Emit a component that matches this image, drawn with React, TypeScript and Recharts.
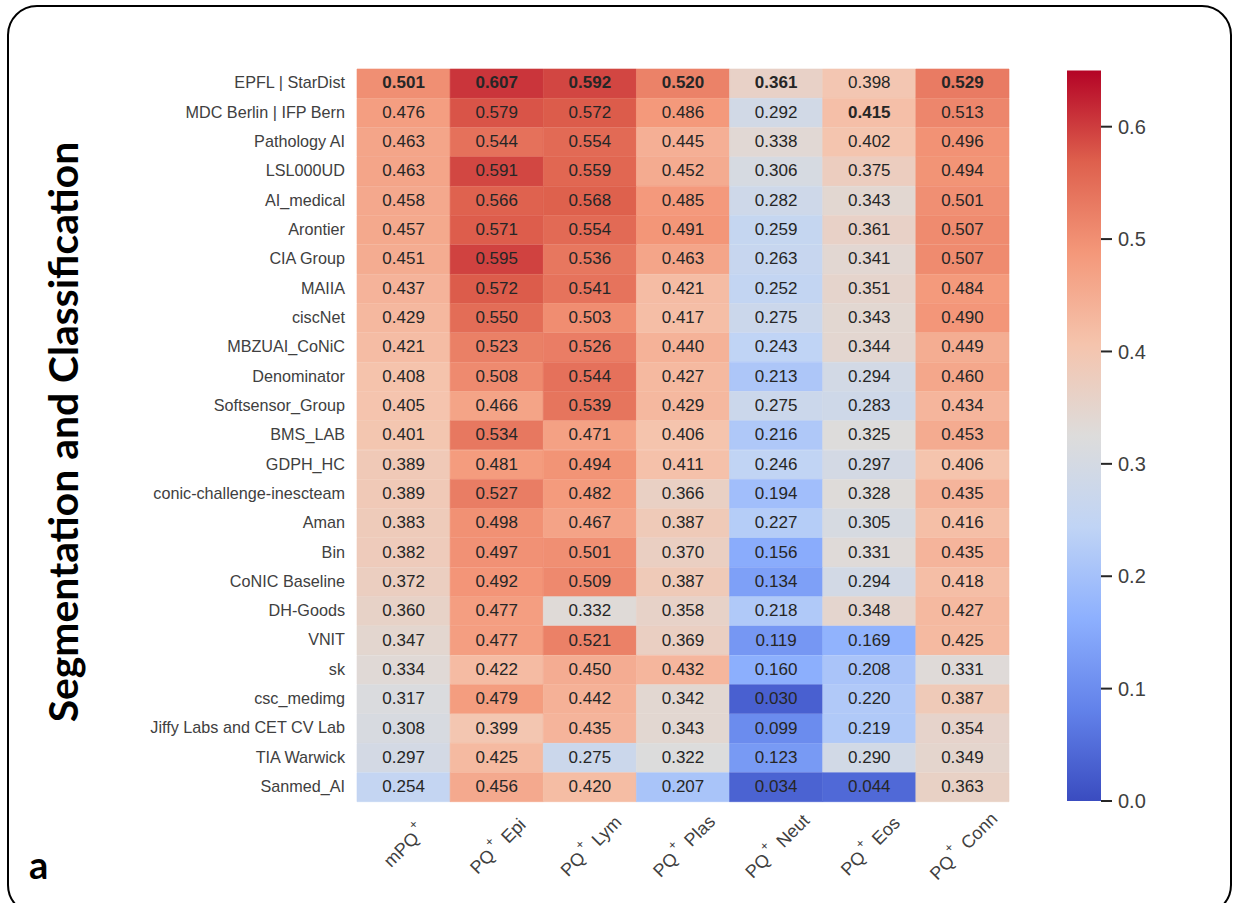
import { BarChart, Bar, Cell, LabelList, XAxis, YAxis } from "recharts";

const teams = [
  "EPFL | StarDist", "MDC Berlin | IFP Bern", "Pathology AI", "LSL000UD", "AI_medical",
  "Arontier", "CIA Group", "MAIIA", "ciscNet", "MBZUAI_CoNiC", "Denominator",
  "Softsensor_Group", "BMS_LAB", "GDPH_HC", "conic-challenge-inescteam", "Aman", "Bin",
  "CoNIC Baseline", "DH-Goods", "VNIT", "sk", "csc_medimg", "Jiffy Labs and CET CV Lab",
  "TIA Warwick", "Sanmed_AI",
];

const mpq = [0.501, 0.476, 0.463, 0.463, 0.458, 0.457, 0.451, 0.437, 0.429, 0.421, 0.408, 0.405, 0.401, 0.389, 0.389, 0.383, 0.382, 0.372, 0.36, 0.347, 0.334, 0.317, 0.308, 0.297, 0.254];
const epi = [0.607, 0.579, 0.544, 0.591, 0.566, 0.571, 0.595, 0.572, 0.55, 0.523, 0.508, 0.466, 0.534, 0.481, 0.527, 0.498, 0.497, 0.492, 0.477, 0.477, 0.422, 0.479, 0.399, 0.425, 0.456];
const lym = [0.592, 0.572, 0.554, 0.559, 0.568, 0.554, 0.536, 0.541, 0.503, 0.526, 0.544, 0.539, 0.471, 0.494, 0.482, 0.467, 0.501, 0.509, 0.332, 0.521, 0.45, 0.442, 0.435, 0.275, 0.42];
const plas = [0.52, 0.486, 0.445, 0.452, 0.485, 0.491, 0.463, 0.421, 0.417, 0.44, 0.427, 0.429, 0.406, 0.411, 0.366, 0.387, 0.37, 0.387, 0.358, 0.369, 0.432, 0.342, 0.343, 0.322, 0.207];
const neut = [0.361, 0.292, 0.338, 0.306, 0.282, 0.259, 0.263, 0.252, 0.275, 0.243, 0.213, 0.275, 0.216, 0.246, 0.194, 0.227, 0.156, 0.134, 0.218, 0.119, 0.16, 0.03, 0.099, 0.123, 0.034];
const eos = [0.398, 0.415, 0.402, 0.375, 0.343, 0.361, 0.341, 0.351, 0.343, 0.344, 0.294, 0.283, 0.325, 0.297, 0.328, 0.305, 0.331, 0.294, 0.348, 0.169, 0.208, 0.22, 0.219, 0.29, 0.044];
const conn = [0.529, 0.513, 0.496, 0.494, 0.501, 0.507, 0.507, 0.484, 0.49, 0.449, 0.46, 0.434, 0.453, 0.406, 0.435, 0.416, 0.435, 0.418, 0.427, 0.425, 0.331, 0.387, 0.354, 0.349, 0.363];

const columns = [
  { key: "mpq", values: mpq, pre: "mPQ", post: "" },
  { key: "epi", values: epi, pre: "PQ", post: "Epi" },
  { key: "lym", values: lym, pre: "PQ", post: "Lym" },
  { key: "plas", values: plas, pre: "PQ", post: "Plas" },
  { key: "neut", values: neut, pre: "PQ", post: "Neut" },
  { key: "eos", values: eos, pre: "PQ", post: "Eos" },
  { key: "conn", values: conn, pre: "PQ", post: "Conn" },
];

const colorbarTicks = [0, 0.1, 0.2, 0.3, 0.4, 0.5, 0.6];
const vmax = 0.65;

// coolwarm colormap
const coolwarm = [
  [58, 76, 192], [98, 130, 234], [141, 176, 254], [192, 212, 245], [221, 220, 219],
  [245, 196, 173], [244, 152, 122], [222, 96, 77], [180, 4, 38],
];

function colorOf(v: number) {
  const t = Math.min(Math.max(v / vmax, 0), 1) * (coolwarm.length - 1);
  const i = Math.min(Math.floor(t), coolwarm.length - 2);
  const f = t - i;
  const c = coolwarm[i].map((a, k) => Math.round(a + (coolwarm[i + 1][k] - a) * f));
  return `rgb(${c[0]},${c[1]},${c[2]})`;
}

const rows = teams.map((team, i) => {
  const row: Record<string, string | number> = { team };
  columns.forEach((c) => (row[c.key] = c.values[i]));
  return row;
});

const font = "'Liberation Sans', Arial, sans-serif";
const textColor = "#404040";

function ColumnTick({ x, y, payload }: any) {
  const c = columns[payload.index ?? Math.floor(payload.value)];
  return (
    <text
      transform={`translate(${x + 2},${y + 37}) rotate(-45)`}
      textAnchor="middle"
      fontFamily={font}
      fontSize={18}
      fill={textColor}
      dominantBaseline="middle"
    >
      {c.pre}
      <tspan dx={2} dy={-9} fontSize={13}>+</tspan>
      <tspan dx={3} dy={9}>{c.post ? ` ${c.post}` : ""}</tspan>
    </text>
  );
}

function cellLabel(best: number) {
  return ({ x, y, width, height, value }: any) => (
    <text
      x={x + width / 2}
      y={y + height / 2 + 0.5}
      textAnchor="middle"
      dominantBaseline="middle"
      fontFamily={font}
      fontSize={17}
      fontWeight={value === best ? 700 : 400}
      fill="#262626"
    >
      {Number(value).toFixed(3)}
    </text>
  );
}

export default function App() {
  return (
    <div style={{ position: "absolute", left: 0, top: 0, width: 1234, height: 903, overflow: "hidden", background: "#fff" }}>
      <div
        style={{
          position: "absolute", left: 7, top: 5, width: 1225, height: 910, boxSizing: "border-box",
          border: "2.5px solid #000", borderRadius: 30,
        }}
      />
      <div style={{ position: "absolute", left: 0, top: 0 }}>
        <BarChart
          width={1234}
          height={903}
          data={rows}
          layout="vertical"
          barCategoryGap={0}
          margin={{ top: 69, right: 225, bottom: 0, left: 0 }}
        >
          <XAxis
            type="number"
            domain={[0, columns.length]}
            ticks={columns.map((_, i) => i + 0.5)}
            interval={0}
            axisLine={false}
            tickLine={false}
            height={101}
            tick={<ColumnTick />}
          />
          <YAxis
            type="category"
            dataKey="team"
            width={357}
            interval={0}
            axisLine={false}
            tickLine={false}
            tickMargin={6}
            tick={{ fontFamily: font, fontSize: 16.2, fill: textColor, dy: -1 }}
          />
          {columns.map((c) => (
            <Bar key={c.key} dataKey={() => 1} stackId="cells" isAnimationActive={false}>
              {c.values.map((v, i) => (
                <Cell key={i} fill={colorOf(v)} stroke={colorOf(v)} strokeWidth={0.6} />
              ))}
              <LabelList dataKey={c.key} content={cellLabel(Math.max(...c.values))} />
            </Bar>
          ))}
        </BarChart>
      </div>
      <div style={{ position: "absolute", left: 1000, top: 0 }}>
        <BarChart
          width={180}
          height={903}
          data={[{ name: "scale", top: vmax }]}
          barCategoryGap={0}
          margin={{ top: 70.5, right: 0, bottom: 102, left: 67 }}
        >
          <defs>
            <linearGradient id="cbar" x1="0" y1="1" x2="0" y2="0">
              {coolwarm.map((c, i) => (
                <stop key={i} offset={i / (coolwarm.length - 1)} stopColor={`rgb(${c.join(",")})`} />
              ))}
            </linearGradient>
          </defs>
          <XAxis dataKey="name" hide />
          <YAxis
            orientation="right"
            domain={[0, vmax]}
            ticks={colorbarTicks}
            interval={0}
            width={79}
            axisLine={false}
            tickLine={{ stroke: "#262626", strokeWidth: 2 }}
            tickSize={11}
            tickMargin={6}
            tickFormatter={(v: number) => v.toFixed(1)}
            tick={{ fontFamily: font, fontSize: 20, fill: textColor }}
          />
          <Bar dataKey="top" fill="url(#cbar)" isAnimationActive={false} />
        </BarChart>
      </div>
      <div
        style={{
          position: "absolute", left: 62, top: 432, transform: "translate(-50%,-50%) rotate(-90deg)",
          whiteSpace: "nowrap", fontFamily: "Lato, sans-serif", fontWeight: 700, fontSize: 40.8, color: "#000",
        }}
      >
        Segmentation and Classification
      </div>
      <div
        style={{
          position: "absolute", left: 29, top: 840, fontFamily: "Lato, sans-serif", fontWeight: 700,
          fontSize: 38, lineHeight: "48px", color: "#000",
        }}
      >
        a
      </div>
    </div>
  );
}
